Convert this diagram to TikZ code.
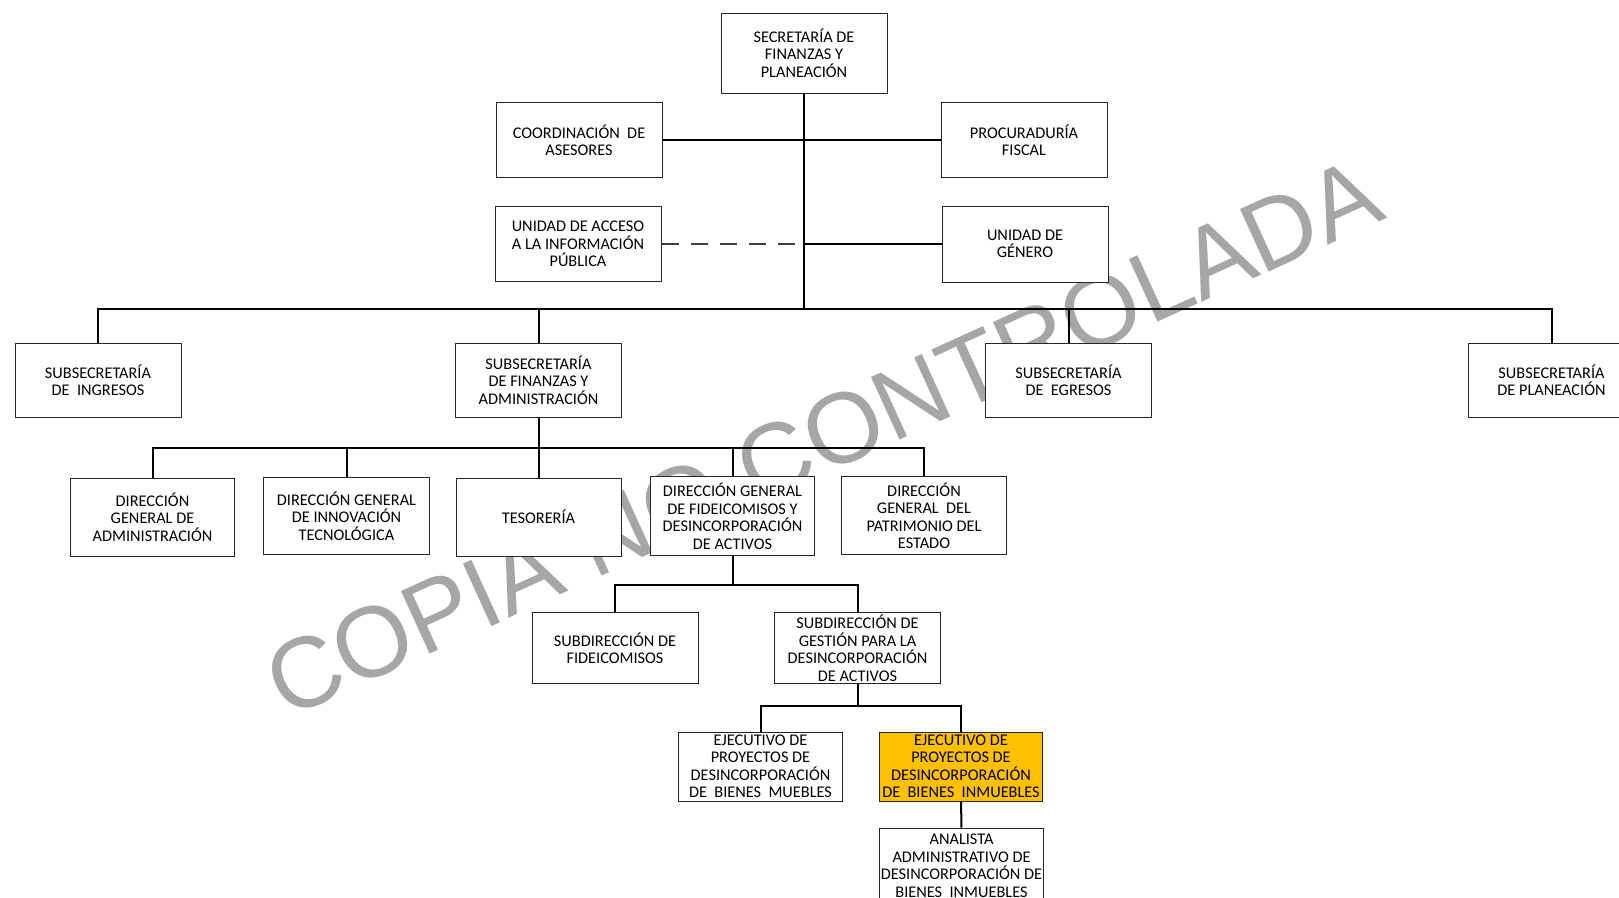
\documentclass[tikz,border=0pt]{standalone}
\usepackage{fontspec}
\setmainfont{Carlito}
\newfontfamily\wmfont{Liberation Sans}
\definecolor{wmgray}{RGB}{166,166,166}
\definecolor{gold}{RGB}{255,192,0}
\def\bs{\ \ }

\begin{document}
\begin{tikzpicture}[x=1pt,y=-1pt,
        orgbox/.style={draw=black!85,line width=1pt,fill=white,align=center,inner sep=0pt,
            font=\fontsize{16.3}{17.5}\selectfont,minimum width=166pt,minimum height=75pt},
        link/.style={line width=2pt},
        wmark/.style={wmgray,inner sep=0pt,anchor=base west,rotate=24.5,
            font=\wmfont\fontsize{100}{100}\selectfont}]
        \clip (0,0) rectangle (1619,897);
        \node[wmark] (wm) at (286,720) {COPIA NO CONTROLADA};

        \node[orgbox,minimum height=80pt] (sec) at (804,53) {SECRETARÍA DE\\FINANZAS Y\\PLANEACIÓN};
        \node[orgbox] (coord) at (579,140) {COORDINACIÓN\bs DE\\ASESORES};
        \node[orgbox] (proc) at (1024,140) {PROCURADURÍA\\FISCAL};
        \node[orgbox] (acceso) at (578,244) {UNIDAD DE ACCESO\\A LA INFORMACIÓN\\PÚBLICA};
        \node[orgbox,minimum height=76pt] (genero) at (1025,244) {UNIDAD DE\\GÉNERO};

        \node[orgbox,minimum height=74pt] (ingresos) at (98,380) {SUBSECRETARÍA\\DE\bs INGRESOS};
        \node[orgbox,minimum height=74pt] (finanzas) at (538.5,380) {SUBSECRETARÍA\\DE FINANZAS Y\\ADMINISTRACIÓN};
        \node[orgbox,minimum height=74pt] (egresos) at (1068.5,380) {SUBSECRETARÍA\\DE\bs EGRESOS};
        \node[orgbox,minimum height=74pt] (planeacion) at (1551.5,380) {SUBSECRETARÍA\\DE PLANEACIÓN};

        \node[orgbox,minimum width=164pt,minimum height=78pt] (admin) at (152.5,517) {DIRECCIÓN\\GENERAL DE\\ADMINISTRACIÓN};
        \node[orgbox,minimum height=77pt] (innov) at (346.5,516) {DIRECCIÓN GENERAL\\DE INNOVACIÓN\\TECNOLÓGICA};
        \node[orgbox,minimum width=165pt,minimum height=78pt] (tesor) at (538.5,517) {TESORERÍA};
        \node[orgbox,minimum width=164pt,minimum height=79pt] (dirfid) at (732.5,516) {DIRECCIÓN GENERAL\\DE FIDEICOMISOS Y\\DESINCORPORACIÓN\\DE ACTIVOS};
        \node[orgbox,minimum width=165pt,minimum height=78pt] (patrim) at (924,515.5) {DIRECCIÓN\\GENERAL\bs DEL\\PATRIMONIO DEL\\ESTADO};

        \node[orgbox,minimum height=71pt] (subfid) at (615,648) {SUBDIRECCIÓN DE\\FIDEICOMISOS};
        \node[orgbox,minimum height=71pt] (gestion) at (857.5,648) {SUBDIRECCIÓN DE\\GESTIÓN PARA LA\\DESINCORPORACIÓN\\DE ACTIVOS};

        \node[orgbox,minimum width=164pt,minimum height=69pt] (muebles) at (760.5,766.5) {EJECUTIVO DE\\PROYECTOS DE\\DESINCORPORACIÓN\\DE\bs BIENES\bs MUEBLES};
        \node[orgbox,fill=gold,minimum width=163pt,minimum height=69pt] (inmuebles) at (961,766.5) {EJECUTIVO DE\\PROYECTOS DE\\DESINCORPORACIÓN\\DE\bs BIENES\bs INMUEBLES};
        \node[orgbox,minimum width=164pt,minimum height=76pt] (analista) at (961.5,866) {ANALISTA\\ADMINISTRATIVO DE\\DESINCORPORACIÓN DE\\BIENES\bs INMUEBLES};

        % buses
        \coordinate (busA) at (804,308.7);
        \coordinate (busB) at (538.5,448);
        \coordinate (busC) at (732.5,584.5);
        \coordinate (busD) at (857.5,706);

        \draw[link] (sec) -- (busA);
        \draw[link] (coord) -- (proc);
        \draw[black!75,line width=1.5pt,dash pattern=on 17pt off 12pt] (acceso.east) -- (acceso.east -| sec.south);
        \draw[link] (acceso.east -| sec.south) -- (genero.west);
        \draw[link] (ingresos.north) |- (busA) -| (planeacion.north);
        \draw[link] (finanzas.north) |- (busA);
        \draw[link] (egresos.north) |- (busA);

        \draw[link] (finanzas.south) -- (tesor.north);
        \draw[link] (admin.north) |- (busB) -| (patrim.north);
        \draw[link] (innov.north) |- (busB);
        \draw[link] (dirfid.north) |- (busB);

        \draw[link] (dirfid.south) -- (busC);
        \draw[link] (subfid.north) |- (busC) -| (gestion.north);

        \draw[link] (gestion.south) -- (busD);
        \draw[link] (muebles.north) |- (busD) -| (inmuebles.north);
        \draw[link] (inmuebles) -- (analista);
\end{tikzpicture}
\end{document}
